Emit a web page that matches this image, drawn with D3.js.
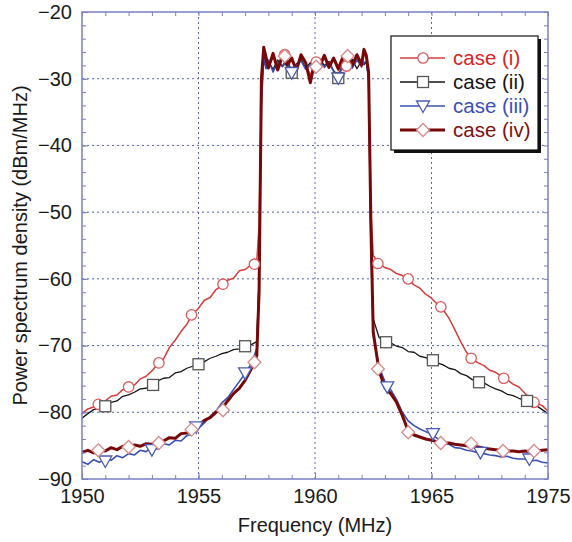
<!DOCTYPE html>
<html lang="en">
<head>
    <meta charset="utf-8">
    <script src="https://d3js.org/d3.v7.min.js"></script>
    <style>
        html, body {
            margin: 0;
            padding: 0;
            background: white;
        }

        svg {
            display: block;
            font-family: 'Liberation Sans', Arial, sans-serif;
        }

        .tick text {
            font-size: 20px;
            fill: #1a1a1a;
        }

        .tick line {
            stroke: #7880c2;
        }

        .domain {
            display: none;
        }

        .grid line {
            stroke: #5a64b0;
            stroke-width: 1;
            stroke-dasharray: 2, 3;
        }

        .series {
            fill: none;
            stroke-linejoin: round;
        }
    </style>
</head>
<body>
<svg width="572" height="542"></svg>
<script>

    // frequency grid shared by all four traces (MHz)
    var freq = [
        1950, 1950.25, 1950.5, 1950.75, 1951, 1951.25, 1951.5, 1951.75, 1952, 1952.25,
        1952.5, 1952.75, 1953, 1953.25, 1953.5, 1953.75, 1954, 1954.25, 1954.5, 1954.75,
        1955, 1955.25, 1955.5, 1955.75, 1956, 1956.25, 1956.5, 1956.75, 1957, 1957.25,
        1957.5, 1957.6, 1957.7, 1957.8,
        1957.9, 1958.0, 1958.2, 1958.4, 1958.6, 1958.8, 1959.0, 1959.2, 1959.4, 1959.6,
        1959.8, 1960.0, 1960.2, 1960.4, 1960.6, 1960.8, 1961.0, 1961.2, 1961.4, 1961.6,
        1961.8, 1962.0, 1962.1,
        1962.2, 1962.3, 1962.4,
        1962.5, 1962.75, 1963, 1963.25, 1963.5, 1963.75, 1964, 1964.25, 1964.5, 1964.75,
        1965, 1965.25, 1965.5, 1965.75, 1966, 1966.25, 1966.5, 1966.75, 1967, 1967.25,
        1967.5, 1967.75, 1968, 1968.25, 1968.5, 1968.75, 1969, 1969.25, 1969.5, 1969.75,
        1970
    ];

    // power spectrum density (dBm/MHz) per case
    var psdCase1 = [
        -80.2, -79.5, -79.2, -78.6, -78.3, -77.6, -77.4, -76.6, -76.3, -75.9,
        -75.0, -74.6, -73.8, -72.8, -72.0, -70.3, -69.2, -67.9, -66.8, -65.3,
        -64.4, -63.2, -62.8, -61.6, -61.0, -60.2, -59.9, -58.8, -58.6, -57.9,
        -57.4, -52, -32, -25.8,
        -27.5, -28.2, -26.8, -27.9, -26.5, -28.3, -27.2, -28.6, -26.9, -27.8,
        -29.5, -27.6, -28.4, -26.8, -27.9, -27.2, -28.8, -27.4, -26.6, -28.1,
        -27.0, -28.3, -26.4,
        -26.8, -29, -50,
        -56.5, -57.7, -58.3, -58.6, -59.2, -59.5, -60.1, -60.9, -61.4, -62.3,
        -62.9, -63.8, -64.6, -65.9, -67.6, -69.4, -71.0, -72.0, -72.6, -73.0,
        -73.7, -74.0, -74.6, -75.1, -75.8, -76.2, -77.1, -77.9, -78.6, -79.0,
        -79.8
    ];
    var psdCase2 = [
        -80.9, -80.2, -79.6, -79.4, -79.0, -78.5, -78.3, -77.6, -77.4, -77.0,
        -76.5, -76.4, -75.9, -75.3, -74.9, -74.8, -74.1, -73.9, -73.4, -73.1,
        -72.8, -72.4, -71.9, -71.6, -71.2, -71.0, -70.6, -70.5, -70.1, -69.9,
        -69.4, -60, -33, -26.5,
        -28.0, -27.4, -28.6, -27.2, -28.1, -27.0, -29.0, -27.8, -27.1, -28.4,
        -27.6, -28.3, -27.0, -28.0, -27.4, -28.8, -29.6, -27.7, -28.2, -27.1,
        -28.5, -27.3, -27.9,
        -27.5, -30, -55,
        -66.0, -68.8, -69.4, -69.6, -70.1, -70.3, -70.9, -71.0, -71.6, -71.8,
        -72.2, -72.6, -72.9, -73.4, -73.6, -74.2, -74.5, -75.1, -75.4, -75.6,
        -76.1, -76.5, -76.8, -77.3, -77.5, -77.9, -78.2, -78.7, -79.0, -79.6,
        -80.2
    ];
    var psdCase3 = [
        -87.4, -87.8, -87.1, -87.5, -86.9, -87.2, -86.5, -86.8, -86.2, -86.4,
        -85.7, -85.9, -85.3, -85.5, -84.7, -84.9, -84.2, -84.3, -83.5, -83.2,
        -82.4, -81.6, -80.6, -79.8, -78.6, -77.8, -76.6, -75.4, -74.2, -72.8,
        -70.5, -60, -34, -27,
        -28.5, -27.2, -29.0, -27.5, -28.2, -27.4, -29.3, -28.0, -27.3, -28.6,
        -27.9, -28.8, -27.4, -28.3, -27.6, -28.9, -29.8, -28.0, -27.5, -28.4,
        -27.2, -28.1, -27.6,
        -27.4, -30, -55,
        -68.5, -73.2, -75.4, -76.6, -78.1, -80.0, -81.3, -82.0, -82.5, -82.9,
        -83.3, -83.9, -84.5, -84.8, -85.3, -85.4, -85.7, -85.8, -86.1, -86.2,
        -86.4, -86.5, -86.7, -86.6, -86.9, -87.0, -87.0, -87.3, -87.2, -87.5,
        -87.6
    ];
    var psdCase4 = [
        -86.0, -85.7, -86.1, -85.6, -85.8, -85.3, -85.6, -85.1, -85.3, -84.9,
        -85.1, -84.7, -84.8, -84.4, -84.3, -83.8, -83.9, -83.2, -83.1, -82.5,
        -82.0, -81.2, -80.8, -80.0, -79.5, -78.3, -77.2, -76.4, -75.2, -73.6,
        -71.5, -62, -30, -25.3,
        -26.8, -28.4, -26.2, -28.7, -26.6, -27.9, -26.9, -28.8, -26.4, -27.6,
        -30.6, -27.2, -28.1, -26.5, -28.3, -26.9, -28.5, -26.7, -26.3, -28.0,
        -26.4, -27.9, -25.6,
        -26.5, -29, -52,
        -68.0, -73.8, -76.3, -77.2, -78.5, -80.5, -82.8, -83.4, -83.7, -84.0,
        -84.2, -84.4, -84.6, -84.6, -84.8, -84.9, -85.0, -85.1, -85.2, -85.4,
        -85.5, -85.6, -85.7, -85.8, -85.8, -85.9, -85.8, -85.9, -85.8, -85.7,
        -85.6
    ];

    // marker positions
    var marks1 = [[1950.7, -78.8], [1952.0, -76.2], [1953.3, -72.6], [1954.7, -65.4], [1956.05, -60.8],
        [1957.4, -57.8], [1958.7, -26.4], [1960.05, -27.5], [1961.35, -28.1], [1962.7, -57.7],
        [1964.0, -60.0], [1965.4, -64.2], [1966.7, -71.9], [1968.1, -74.9], [1969.4, -78.5]];
    var marks2 = [[1951.0, -79.1], [1953.05, -75.9], [1955.0, -72.8], [1957.0, -70.1], [1959.0, -29.1],
        [1961.0, -29.9], [1963.05, -69.5], [1965.06, -72.2], [1967.04, -75.5], [1969.1, -78.3]];
    var marks3 = [[1951.0, -87.3], [1953.0, -85.6], [1954.9, -82.2], [1957.0, -74.1], [1959.0, -29.1],
        [1961.0, -29.9], [1963.1, -76.2], [1965.06, -83.2], [1967.1, -86.0], [1969.2, -87.0]];
    var marks4 = [[1950.7, -85.7], [1952.0, -85.2], [1953.3, -84.6], [1954.7, -82.6], [1956.05, -79.7],
        [1957.4, -72.5], [1958.7, -26.6], [1960.05, -28.2], [1961.4, -26.6], [1962.7, -73.5],
        [1964.0, -83.0], [1965.4, -84.6], [1966.7, -84.7], [1968.07, -85.8], [1969.4, -85.8]];

    var seriesNames = ['case (i)', 'case (ii)', 'case (iii)', 'case (iv)'];

    var xTickValues = [1950, 1955, 1960, 1965, 1970];
    var xTickLabels = ['1950', '1955', '1960', '1965', '1975'];
    var yTickValues = [-90, -80, -70, -60, -50, -40, -30, -20];

    var plotLeft = 82, plotRight = 548, plotTop = 12, plotBottom = 479;

    var svg = d3.select('svg');

    var x = d3.scaleLinear().domain([1950, 1970]).range([plotLeft, plotRight]);
    var y = d3.scaleLinear().domain([-90, -20]).range([plotBottom, plotTop]);

    // grid
    var grid = svg.append('g').attr('class', 'grid');
    grid.selectAll('line.h')
        .data(yTickValues.slice(1, -1))
        .enter().append('line')
        .attr('x1', plotLeft).attr('x2', plotRight)
        .attr('y1', function (d) { return y(d); })
        .attr('y2', function (d) { return y(d); });
    grid.selectAll('line.v')
        .data(xTickValues.slice(1, -1))
        .enter().append('line')
        .attr('y1', plotTop).attr('y2', plotBottom)
        .attr('x1', function (d) { return x(d); })
        .attr('x2', function (d) { return x(d); });

    // traces
    var styles = [
        {data: psdCase1, color: '#d83c3c', width: 1.5, marks: marks1, shape: 'circle', mstroke: '#d85a5a', text: '#d42525'},
        {data: psdCase2, color: '#151515', width: 1.3, marks: marks2, shape: 'square', mstroke: '#555555', text: '#151515'},
        {data: psdCase3, color: '#3a4fb0', width: 1.6, marks: marks3, shape: 'triangle', mstroke: '#4a5cba', text: '#3a4fb8'},
        {data: psdCase4, color: '#780808', width: 3, marks: marks4, shape: 'diamond', mstroke: '#d88a8a', text: '#7d1010'}
    ];

    var line = d3.line()
        .x(function (d) { return x(d[0]); })
        .y(function (d) { return y(d[1]); });

    styles.forEach(function (s) {
        svg.append('path')
            .attr('class', 'series')
            .attr('d', line(freq.map(function (f, i) { return [f, s.data[i]]; })))
            .attr('stroke', s.color)
            .attr('stroke-width', s.width);
    });

    function drawMarker (g, shape, cx, cy, stroke) {
        var m;
        if (shape === 'circle') {
            m = g.append('circle').attr('cx', cx).attr('cy', cy).attr('r', 5.2);
        } else if (shape === 'square') {
            m = g.append('rect').attr('x', cx - 5.5).attr('y', cy - 5.5).attr('width', 11).attr('height', 11);
        } else if (shape === 'triangle') {
            m = g.append('path').attr('d', 'M' + (cx - 6.5) + ',' + (cy - 5) + 'L' + (cx + 6.5) + ',' + (cy - 5) +
                'L' + cx + ',' + (cy + 6.5) + 'Z');
        } else {
            m = g.append('path').attr('d', 'M' + cx + ',' + (cy - 6.5) + 'L' + (cx + 6.5) + ',' + cy +
                'L' + cx + ',' + (cy + 6.5) + 'L' + (cx - 6.5) + ',' + cy + 'Z');
        }
        m.attr('fill', 'white').attr('stroke', stroke).attr('stroke-width', 1.3);
    }

    var markerLayer = svg.append('g');
    styles.forEach(function (s) {
        s.marks.forEach(function (p) {
            drawMarker(markerLayer, s.shape, x(p[0]), y(p[1]), s.mstroke);
        });
    });

    // axes with inward ticks on all four sides
    var xMinor = d3.range(1950, 1971, 1);
    var yMinor = d3.range(-90, -19, 2);

    svg.append('g').attr('transform', 'translate(0,' + plotBottom + ')')
        .call(d3.axisBottom(x).tickValues(xMinor).tickSize(-4).tickSizeOuter(0).tickFormat(''));
    svg.append('g').attr('transform', 'translate(0,' + plotBottom + ')')
        .call(d3.axisBottom(x).tickValues(xTickValues).tickSize(-6).tickSizeOuter(0).tickPadding(10)
            .tickFormat(function (d, i) { return xTickLabels[i]; }));
    svg.append('g').attr('transform', 'translate(0,' + plotTop + ')')
        .call(d3.axisTop(x).tickValues(xMinor).tickSize(-4).tickSizeOuter(0).tickFormat(''));
    svg.append('g').attr('transform', 'translate(' + plotLeft + ',0)')
        .call(d3.axisLeft(y).tickValues(yMinor).tickSize(-4).tickSizeOuter(0).tickFormat(''));
    svg.append('g').attr('transform', 'translate(' + plotLeft + ',0)')
        .call(d3.axisLeft(y).tickValues(yTickValues).tickSize(-6).tickSizeOuter(0).tickPadding(10)
            .tickFormat(d3.format('d')));
    svg.append('g').attr('transform', 'translate(' + plotRight + ',0)')
        .call(d3.axisRight(y).tickValues(yMinor).tickSize(-4).tickSizeOuter(0).tickFormat(''));

    svg.append('rect')
        .attr('x', plotLeft).attr('y', plotTop)
        .attr('width', plotRight - plotLeft).attr('height', plotBottom - plotTop)
        .attr('fill', 'none')
        .attr('stroke', '#7880c2')
        .attr('stroke-width', 1.5);

    // axis titles
    svg.append('text')
        .attr('x', (plotLeft + plotRight) / 2)
        .attr('y', 532)
        .attr('text-anchor', 'middle')
        .attr('font-size', 20)
        .attr('fill', '#1a1a1a')
        .text('Frequency (MHz)');

    svg.append('text')
        .attr('transform', 'translate(27,' + (plotTop + plotBottom) / 2 + ') rotate(-90)')
        .attr('text-anchor', 'middle')
        .attr('font-size', 20)
        .attr('fill', '#1a1a1a')
        .text('Power spectrum density (dBm/MHz)');

    // legend
    var lg = svg.append('g');
    lg.append('rect')
        .attr('x', 394).attr('y', 39).attr('width', 147).attr('height', 114)
        .attr('fill', '#111');
    lg.append('rect')
        .attr('x', 391).attr('y', 36).attr('width', 147).attr('height', 114)
        .attr('fill', 'white').attr('stroke', '#111').attr('stroke-width', 1.2);

    styles.forEach(function (s, i) {
        var ry = 58 + i * 24;
        lg.append('line')
            .attr('x1', 400).attr('x2', 445)
            .attr('y1', ry).attr('y2', ry)
            .attr('stroke', s.color)
            .attr('stroke-width', s.width);
        drawMarker(lg, s.shape, 423, ry, s.mstroke);
        lg.append('text')
            .attr('x', 453).attr('y', ry)
            .attr('dy', '0.36em')
            .attr('font-size', 20.5)
            .attr('fill', s.text)
            .text(seriesNames[i]);
    });

</script>
</body>
</html>
